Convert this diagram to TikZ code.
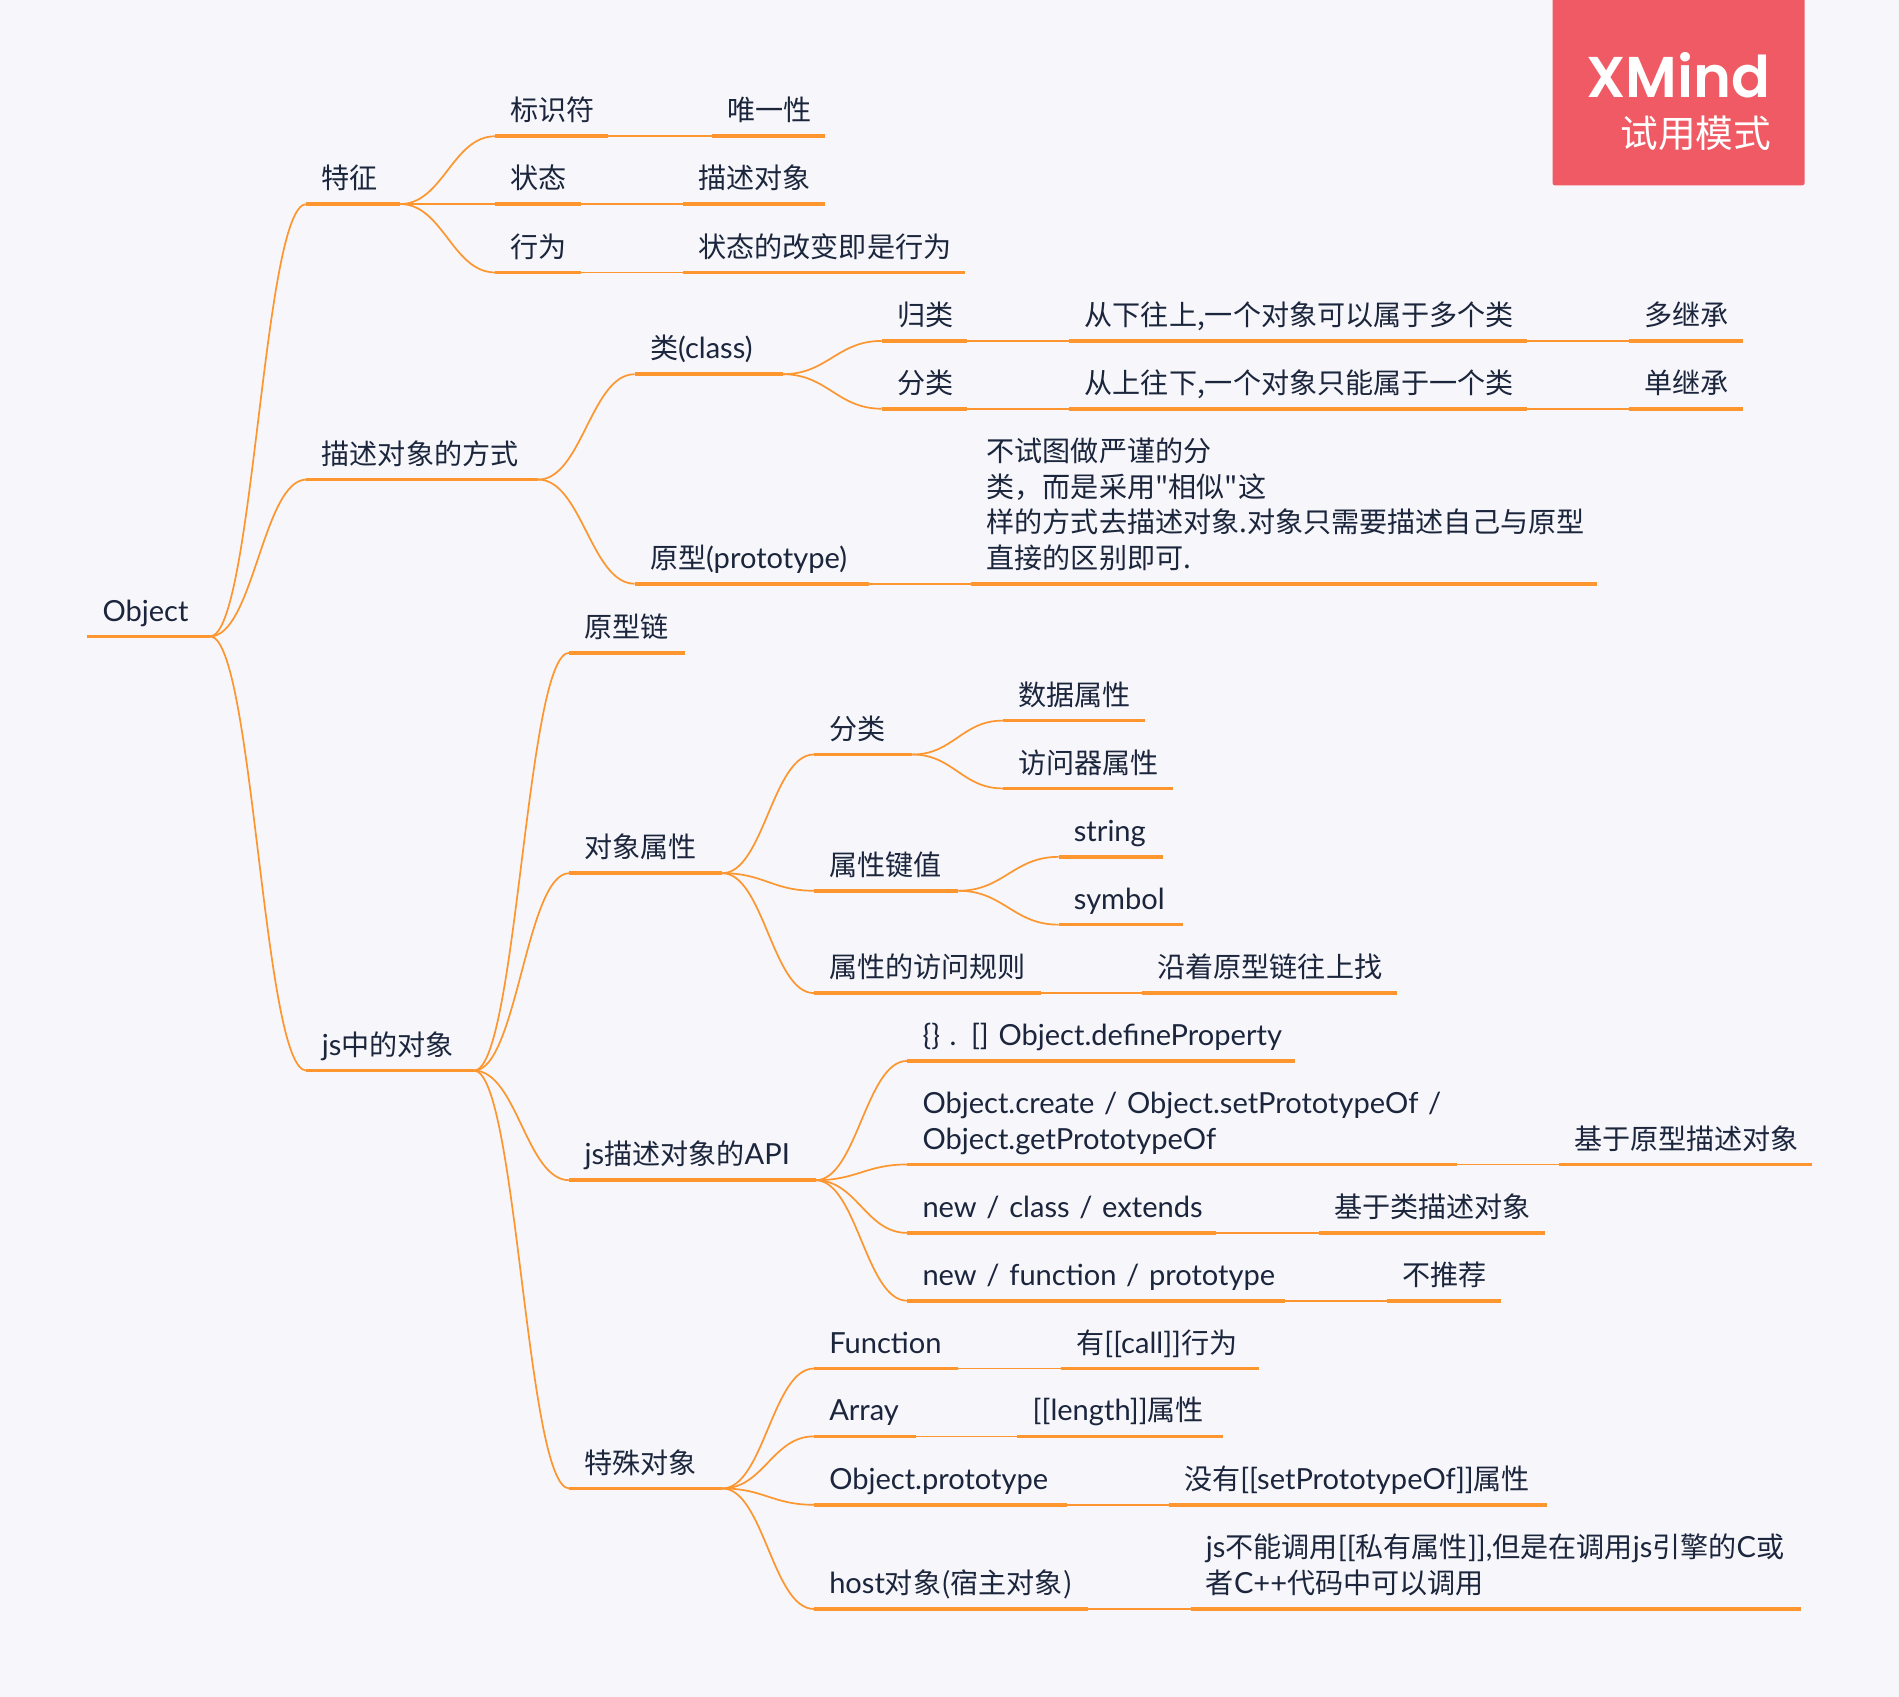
\documentclass[tikz,border=0pt]{standalone}
\usepackage{fontspec}
\usetikzlibrary{calc}
\setmainfont{Lato}[Scale=1.035]
\newfontfamily\cjk{Noto Sans CJK SC}
\newfontfamily\logofont{Poppins}[UprightFont=* SemiBold]
\newcommand{\zh}[1]{{\cjk #1}}
\definecolor{bgcol}{RGB}{246,246,251}
\definecolor{mapline}{RGB}{253,150,46}
\definecolor{maptext}{RGB}{27,37,60}
\definecolor{logored}{RGB}{240,90,100}
\tikzset{
    topic/.style={anchor=south west, text width=#1 cm, align=left, inner xsep=0.12cm, inner ysep=0.12cm,
        text depth=0pt, text=maptext, font=\fontsize{6.6}{8.37}\selectfont},
    twolines/.style={text depth=8.37pt},
    fourlines/.style={text depth=25.11pt},
    underline/.style={mapline, line width=0.85pt},
    link/.style={mapline, line width=0.4pt},
    curve/.style={to path={let \p1=(\tikztostart), \p2=(\tikztotarget), \n1={0.45*(\x2-\x1)} in
        .. controls (\x1+\n1,\y1) and (\x2-\n1,\y2) .. (\tikztotarget)}}
}
\begin{document}
\begin{tikzpicture}[x=1cm,y=-1cm]
    \useasboundingbox (0,0) rectangle (15.68,14.01);
    \fill[bgcol] (0,0) rectangle (15.68,14.01);
    % Logo
    \fill[logored, rounded corners=0.5pt] (12.82,-0.1) rectangle (14.9,1.53);
    \node[anchor=base east, inner sep=0, white, font=\logofont\fontsize{13.5}{14}\selectfont] (logo) at (14.625,0.805) {XMind};
    \node[anchor=base east, inner sep=0, white, font=\cjk\fontsize{8.85}{10}\selectfont] (trial) at (14.63,1.22) {试用模式};
    % Root
    \node[topic=0.76] (obj) at (0.72,5.255) {Object};
    % Features
    \node[topic=0.52] (tz) at (2.53,1.685) {\zh{特征}};
    \node[topic=0.68] (bsf) at (4.09,1.125) {\zh{标识符}};
    \node[topic=0.68] (wyx) at (5.88,1.125) {\zh{唯一性}};
    \node[topic=0.45] (zt) at (4.09,1.685) {\zh{状态}};
    \node[topic=0.92] (msdx) at (5.64,1.685) {\zh{描述对象}};
    \node[topic=0.45] (xw) at (4.09,2.25) {\zh{行为}};
    \node[topic=2.07] (gbxw) at (5.64,2.25) {\zh{状态的改变即是行为}};
    % Ways to describe
    \node[topic=1.66] (fs) at (2.53,3.96) {\zh{描述对象的方式}};
    \node[topic=0.97] (cls) at (5.24,3.09) {\zh{类}(class)};
    \node[topic=0.45] (gl) at (7.28,2.815) {\zh{归类}};
    \node[topic=3.52] (xs) at (8.83,2.815) {\zh{从下往上,一个对象可以属于多个类}};
    \node[topic=0.69] (djc) at (13.45,2.815) {\zh{多继承}};
    \node[topic=0.45] (fl) at (7.28,3.375) {\zh{分类}};
    \node[topic=3.52] (sx) at (8.83,3.375) {\zh{从上往下,一个对象只能属于一个类}};
    \node[topic=0.69] (dnjc) at (13.45,3.375) {\zh{单继承}};
    \node[topic=1.68] (yx) at (5.24,4.82) {\zh{原型}(prototype)};
    \node[topic=4.91, fourlines] (bst) at (8.02,4.82) {\zh{不试图做严谨的分}\\\zh{类，而是采用"相似"这}\\\zh{样的方式去描述对象.对象只需要描述自己与原型}\\\zh{直接的区别即可.}};
    % Objects in js
    \node[topic=1.13] (js) at (2.53,8.84) {js\zh{中的对象}};
    \node[topic=0.70] (yxl) at (4.70,5.39) {\zh{原型链}};
    \node[topic=1.01] (dxsx) at (4.70,7.21) {\zh{对象属性}};
    \node[topic=0.56] (fl2) at (6.72,6.23) {\zh{分类}};
    \node[topic=0.92] (sjsx) at (8.28,5.95) {\zh{数据属性}};
    \node[topic=1.15] (fwq) at (8.28,6.51) {\zh{访问器属性}};
    \node[topic=0.94] (jz) at (6.72,7.355) {\zh{属性键值}};
    \node[topic=0.61] (str) at (8.74,7.075) {string};
    \node[topic=0.77] (sym) at (8.74,7.635) {symbol};
    \node[topic=1.62] (gz) at (6.72,8.20) {\zh{属性的访问规则}};
    \node[topic=1.85] (yz) at (9.43,8.20) {\zh{沿着原型链往上找}};
    % API
    \node[topic=1.78] (api) at (4.70,9.745) {js\zh{描述对象的}API};
    \node[topic=2.95] (dp) at (7.49,8.76) {\mbox{\{\} . [] Object.defineProperty}};
    \node[topic=4.29, twolines] (cr) at (7.49,9.615) {Object.create / Object.setPrototypeOf /\\Object.getPrototypeOf};
    \node[topic=1.84] (jyyx) at (12.87,9.615) {\zh{基于原型描述对象}};
    \node[topic=2.30] (nc) at (7.49,10.18) {\mbox{new / class / extends}};
    \node[topic=1.61] (jl) at (10.89,10.18) {\zh{基于类描述对象}};
    \node[topic=2.87] (nf) at (7.49,10.74) {\mbox{new / function / prototype}};
    \node[topic=0.69] (btj) at (11.45,10.74) {\zh{不推荐}};
    % Special objects
    \node[topic=1.01] (ts) at (4.70,12.29) {\zh{特殊对象}};
    \node[topic=0.94] (fn) at (6.72,11.30) {Function};
    \node[topic=1.38] (call) at (8.76,11.30) {\zh{有}[[call]]\zh{行为}};
    \node[topic=0.59] (arr) at (6.72,11.86) {Array};
    \node[topic=1.44] (len) at (8.40,11.86) {[[length]]\zh{属性}};
    \node[topic=1.84] (op) at (6.72,12.425) {Object.prototype};
    \node[topic=2.87] (spo) at (9.65,12.425) {\zh{没有}[[setPrototypeOf]]\zh{属性}};
    \node[topic=2.01] (host) at (6.72,13.285) {host\zh{对象(宿主对象)}};
    \node[topic=4.79, twolines] (jsc) at (9.83,13.285) {js\zh{不能调用}[[\zh{私有属性}]],\zh{但是在调用}js\zh{引擎的}C\zh{或}\\\zh{者}C++\zh{代码中可以调用}};
    % Underlines
    \foreach \n in {obj,tz,bsf,wyx,zt,msdx,xw,gbxw,fs,cls,gl,xs,djc,fl,sx,dnjc,yx,bst,js,yxl,dxsx,fl2,sjsx,fwq,jz,str,sym,gz,yz,
        api,dp,cr,jyyx,nc,jl,nf,btj,ts,fn,call,arr,len,op,spo,host,jsc}
        \draw[underline] (\n.south west) -- (\n.south east);
    % Branches
    \foreach \a/\b in {obj/tz,obj/fs,obj/js,tz/bsf,tz/zt,tz/xw,bsf/wyx,zt/msdx,xw/gbxw,fs/cls,fs/yx,cls/gl,cls/fl,gl/xs,xs/djc,fl/sx,sx/dnjc,yx/bst,
        js/yxl,js/dxsx,js/api,js/ts,dxsx/fl2,dxsx/jz,dxsx/gz,fl2/sjsx,fl2/fwq,jz/str,jz/sym,gz/yz,
        api/dp,api/cr,api/nc,api/nf,cr/jyyx,nc/jl,nf/btj,ts/fn,ts/arr,ts/op,ts/host,fn/call,arr/len,op/spo,host/jsc}
        \draw[link] (\a.south east) to[curve] (\b.south west);
\end{tikzpicture}
\end{document}
